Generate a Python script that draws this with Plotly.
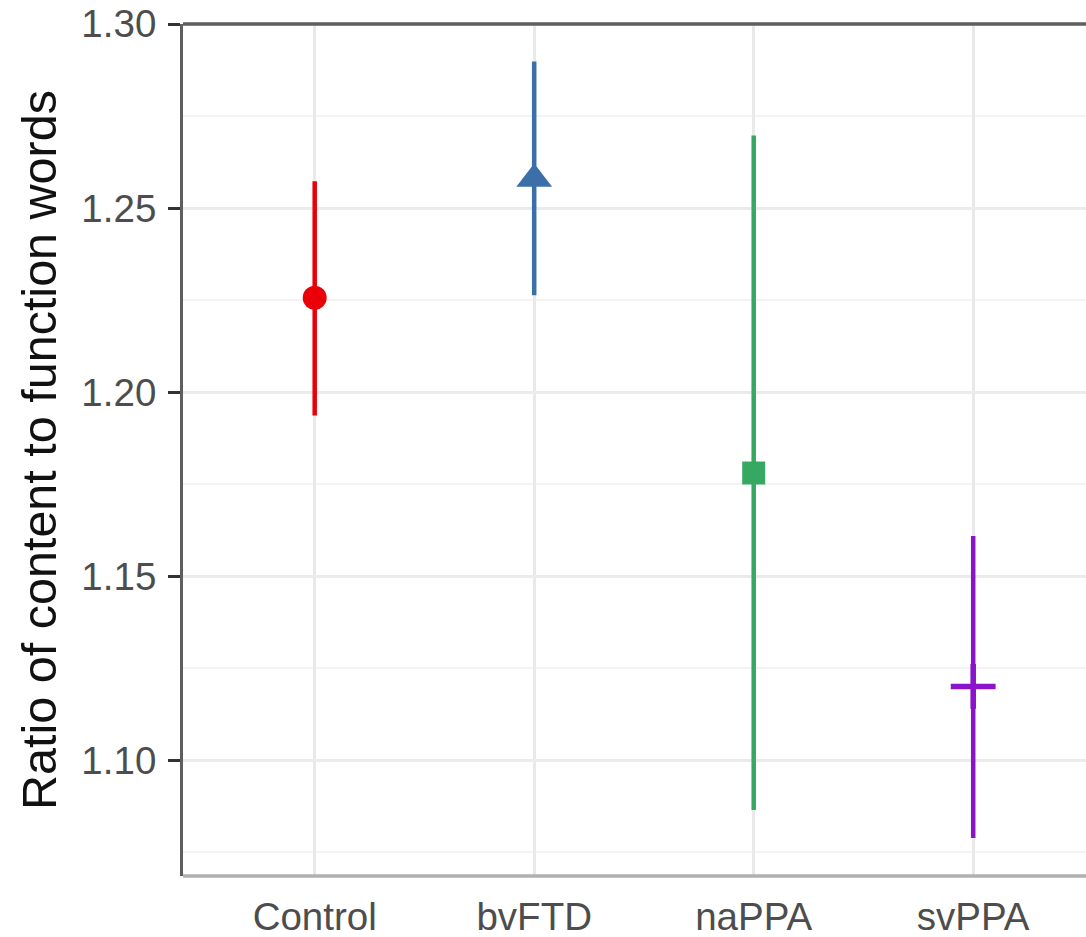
import plotly.graph_objects as go

# Group summaries: mean ratio and its interval
groups = ["Control", "bvFTD", "naPPA", "svPPA"]
means = [1.2256, 1.2579, 1.178, 1.120]
lower = [1.1936, 1.2263, 1.0864, 1.0788]
upper = [1.2573, 1.2898, 1.2697, 1.1609]

colors = ["#EA0008", "#3B6FAA", "#37A862", "#8A14C9"]
symbols = ["circle", "triangle-up", "square", "cross-thin"]
sizes = [24, 31, 23, 32]

y_ticks = [1.10, 1.15, 1.20, 1.25, 1.30]
y_tick_text = ["1.10", "1.15", "1.20", "1.25", "1.30"]

fig = go.Figure()
for i, g in enumerate(groups):
    is_plus = symbols[i] == "cross-thin"
    fig.add_trace(go.Scatter(
        x=[i + 1], y=[means[i]],
        mode="markers",
        marker=dict(
            symbol=symbols[i], size=sizes[i], color=colors[i],
            line=dict(width=5.5 if is_plus else 0, color=colors[i]),
        ),
        error_y=dict(
            type="data", symmetric=False,
            array=[upper[i] - means[i]],
            arrayminus=[means[i] - lower[i]],
            color=colors[i], thickness=4.5, width=0,
        ),
        showlegend=False,
        name=g,
    ))

font_family = "Liberation Sans, Arial, sans-serif"

fig.update_layout(
    width=1086, height=937,
    margin=dict(l=183, r=0, t=24, b=61),
    paper_bgcolor="white", plot_bgcolor="white",
    font=dict(family=font_family),
    xaxis=dict(
        range=[0.4, 0.4 + 903 / 219.5],
        tickmode="array", tickvals=[1, 2, 3, 4], ticktext=groups,
        tickfont=dict(size=38.5, color="#4D4D4D"),
        ticklabelstandoff=14,
        showgrid=True, gridcolor="#E9E9E9", gridwidth=3,
        showline=False, zeroline=False, ticks="",
    ),
    yaxis=dict(
        range=[1.0685, 1.30],
        tickmode="array", tickvals=y_ticks, ticktext=y_tick_text,
        tickfont=dict(size=38.5, color="#4D4D4D"),
        ticklabelstandoff=4,
        ticks="outside", ticklen=12, tickwidth=3, tickcolor="#333333",
        showgrid=True, gridcolor="#EBEBEB", gridwidth=3,
        minor=dict(dtick=0.05, tick0=1.075, showgrid=True,
                   gridcolor="#F3F3F3", gridwidth=2, ticks=""),
        showline=True, linecolor="#5E5E5E", linewidth=3,
        zeroline=False,
        title=dict(text="Ratio of content to function words",
                   font=dict(size=48.5, color="#111111"), standoff=10),
    ),
    shapes=[
        dict(type="line", xref="paper", yref="paper", x0=0, x1=1, y0=1, y1=1,
             line=dict(color="#5E5E5E", width=3.5)),
        dict(type="line", xref="paper", yref="paper", x0=0, x1=1, y0=0, y1=0,
             line=dict(color="#B0B0B0", width=3.5)),
    ],
)

fig.write_html("out.html")
